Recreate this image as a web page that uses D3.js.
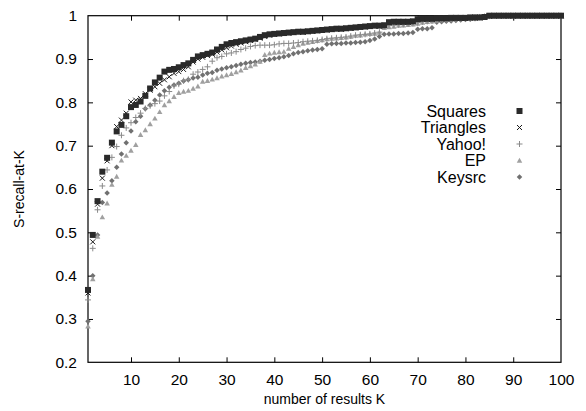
<!DOCTYPE html>
<html><head><meta charset="utf-8">
<script src="https://cdn.jsdelivr.net/npm/d3@7"></script>
<style>
body{margin:0;background:#fff;}
svg{display:block;font-family:"Liberation Sans",Arial,sans-serif;}
</style></head>
<body><svg id="c" width="586" height="411"></svg>
<script>
const kValues = d3.range(1, 101);
const xTicks = [10,20,30,40,50,60,70,80,90,100];
const yTicks = [0.2,0.3,0.4,0.5,0.6,0.7,0.8,0.9,1];
const seriesNames = ["Squares","Triangles","Yahoo!","EP","Keysrc"];

const squares = [0.367,0.494,0.572,0.640,0.672,0.707,0.733,0.748,0.768,0.789,
0.794,0.802,0.815,0.832,0.846,0.857,0.871,0.875,0.877,0.881,
0.886,0.890,0.898,0.906,0.909,0.912,0.915,0.922,0.928,0.934,
0.937,0.939,0.941,0.943,0.945,0.947,0.951,0.955,0.957,0.958,
0.959,0.960,0.961,0.962,0.963,0.963,0.964,0.965,0.966,0.967,
0.968,0.969,0.970,0.970,0.971,0.972,0.973,0.974,0.975,0.976,
0.977,0.977,0.978,0.985,0.986,0.986,0.986,0.986,0.987,0.992,
0.993,0.993,0.993,0.994,0.994,0.994,0.995,0.995,0.995,0.995,
0.996,0.996,0.996,0.997,1,1,1,1,1,1,
1,1,1,1,1,1,1,1,1,1];
const triangles = [0.360,0.478,0.565,0.625,0.665,0.700,0.744,0.759,0.775,0.801,
0.805,0.809,0.820,0.828,0.836,0.844,0.852,0.859,0.867,0.871,
0.876,0.882,0.893,0.900,0.904,0.908,0.911,0.916,0.921,0.926,
0.930,0.934,0.937,0.940,0.943,0.945,0.948,0.952,0.955,0.957,
0.958,0.959,0.960,0.961,0.962,0.962,0.963,0.964,0.965,0.966,
0.967,0.968,0.969,0.969,0.970,0.971,0.972,0.973,0.974,0.975,
0.976,0.976,0.977,0.984,0.985,0.985,0.985,0.985,0.986,0.991,
0.992,0.992,0.992,0.993,0.993,0.993,0.994,0.994,0.994,0.994,
0.995,0.995,0.995,0.996,0.999,1,1,1,1,1,
1,1,1,1,1,1,1,1,1,1];
const yahoo = [0.344,0.463,0.552,0.607,0.644,0.673,0.698,0.724,0.741,0.753,
0.765,0.775,0.786,0.792,0.797,0.803,0.815,0.825,0.838,0.842,
0.850,0.853,0.865,0.870,0.876,0.882,0.895,0.903,0.906,0.912,
0.914,0.917,0.922,0.925,0.929,0.931,0.932,0.932,0.932,0.933,
0.935,0.936,0.936,0.937,0.938,0.940,0.941,0.942,0.943,0.945,
0.947,0.948,0.949,0.950,0.951,0.953,0.955,0.956,0.957,0.958,
0.960,0.962,0.975,0.977,0.978,0.979,0.980,0.981,0.982,0.984,
0.986,0.987,0.988,0.990,0.990,0.991,0.991,0.992,0.993,0.994,
0.995,0.996,0.997,0.998,0.999,1,1,1,1,1,
1,1,1,1,1,1,1,1,1,1];
const ep = [0.283,0.392,0.490,0.535,0.567,0.610,0.629,0.666,0.677,0.689,
0.702,0.725,0.736,0.750,0.763,0.778,0.794,0.803,0.813,0.822,
0.825,0.827,0.832,0.837,0.848,0.850,0.853,0.856,0.860,0.863,
0.866,0.870,0.874,0.880,0.884,0.888,0.894,0.910,0.913,0.915,
0.916,0.917,0.924,0.928,0.932,0.936,0.938,0.940,0.942,0.944,
0.946,0.947,0.948,0.949,0.950,0.952,0.954,0.955,0.957,0.958,
0.959,0.961,0.972,0.974,0.975,0.977,0.978,0.979,0.980,0.982,
0.984,0.986,0.987,0.989,0.990,0.991,0.992,0.993,0.994,0.995,
0.996,0.997,0.998,0.999,0.999,1,1,1,1,1,
1,1,1,1,1,1,1,1,1,1];
const keysrc = [0.295,0.400,0.494,0.569,0.591,0.619,0.650,0.681,0.707,0.734,
0.755,0.768,0.785,0.794,0.805,0.817,0.827,0.835,0.840,0.844,
0.849,0.852,0.856,0.858,0.863,0.867,0.869,0.874,0.877,0.880,
0.882,0.885,0.888,0.890,0.892,0.893,0.895,0.897,0.899,0.901,
0.903,0.905,0.908,0.912,0.915,0.917,0.919,0.921,0.922,0.924,
0.934,0.935,0.936,0.936,0.937,0.937,0.938,0.939,0.940,0.943,
0.946,0.952,0.957,0.958,0.958,0.959,0.959,0.960,0.961,0.969,
0.970,0.970,0.972,0.985,0.986,0.987,0.988,0.989,0.990,0.991,
0.992,0.993,0.995,0.997,0.999,1,1,1,1,1,
1,1,1,1,1,1,1,1,1,1];

const seriesValues = [squares, triangles, yahoo, ep, keysrc];
const seriesStyle = [
  {shape:"square", color:"#2a2a2a", size:6},
  {shape:"cross", color:"#1a1a1a", size:5},
  {shape:"plus", color:"#8a8a8a", size:6},
  {shape:"triangle", color:"#a0a0a0", size:5.5},
  {shape:"diamond", color:"#707070", size:5.5}
];

const svg = d3.select("#c");
const L = 88, R = 561, T = 15.7, B = 362.3;
const x = d3.scaleLinear().domain([1,100]).range([L,R]);
const y = d3.scaleLinear().domain([0.2,1]).range([B,T]);

function drawMarker(g, shape, cx, cy, s, color){
  const h = s/2;
  if(shape==="square"){
    g.append("rect").attr("x",cx-h).attr("y",cy-h).attr("width",s).attr("height",s).attr("fill",color);
  } else if(shape==="cross"){
    g.append("path").attr("d",`M${cx-h},${cy-h}L${cx+h},${cy+h}M${cx-h},${cy+h}L${cx+h},${cy-h}`)
     .attr("stroke",color).attr("stroke-width",1).attr("fill","none");
  } else if(shape==="plus"){
    g.append("path").attr("d",`M${cx-h},${cy}L${cx+h},${cy}M${cx},${cy-h}L${cx},${cy+h}`)
     .attr("stroke",color).attr("stroke-width",1).attr("fill","none");
  } else if(shape==="triangle"){
    g.append("path").attr("d",`M${cx},${cy-h}L${cx+h},${cy+h*0.8}L${cx-h},${cy+h*0.8}Z`).attr("fill",color);
  } else if(shape==="diamond"){
    g.append("path").attr("d",`M${cx},${cy-h}L${cx+h},${cy}L${cx},${cy+h}L${cx-h},${cy}Z`).attr("fill",color);
  }
}

// axes with inward ticks (gnuplot style)
const tickLen = 5;
const axB = svg.append("g").attr("transform",`translate(0,${B})`)
  .call(d3.axisBottom(x).tickValues(xTicks).tickSizeInner(-tickLen).tickSizeOuter(0).tickPadding(12));
const axT = svg.append("g").attr("transform",`translate(0,${T})`)
  .call(d3.axisTop(x).tickValues(xTicks).tickSizeInner(-tickLen).tickSizeOuter(0).tickFormat(""));
const axL = svg.append("g").attr("transform",`translate(${L},0)`)
  .call(d3.axisLeft(y).tickValues(yTicks).tickSizeInner(-tickLen).tickSizeOuter(0).tickPadding(11).tickFormat(d3.format("")));
const axR = svg.append("g").attr("transform",`translate(${R},0)`)
  .call(d3.axisRight(y).tickValues(yTicks).tickSizeInner(-tickLen).tickSizeOuter(0).tickFormat(""));
[axB,axT,axL,axR].forEach(a=>{
  a.select(".domain").remove();
  a.selectAll("line").attr("stroke","#000");
  a.selectAll("text").attr("font-size",15.5).attr("fill","#000").attr("font-family","Liberation Sans, Arial, sans-serif");
});
// remove ticks at plot corners
axL.selectAll(".tick").filter(d=>d===0.2||d===1).select("line").remove();
axR.selectAll(".tick").filter(d=>d===0.2||d===1).select("line").remove();
axT.selectAll(".tick").filter(d=>d===100).select("line").remove();
axB.selectAll(".tick").filter(d=>d===100).select("line").remove();

svg.append("rect").attr("x",L).attr("y",T).attr("width",R-L).attr("height",B-T)
  .attr("fill","none").attr("stroke","#000").attr("stroke-width",1.2);

// data markers (draw last series first so Squares on top)
for(let si=seriesValues.length-1; si>=0; si--){
  const g = svg.append("g");
  const st = seriesStyle[si];
  seriesValues[si].forEach((v,i)=>drawMarker(g, st.shape, x(kValues[i]), y(v), st.size, st.color));
}

// legend
const lg = svg.append("g");
seriesNames.forEach((n,i)=>{
  const cy = 111 + i*16.5;
  lg.append("text").attr("x",486).attr("y",cy).attr("dy","0.35em").attr("text-anchor","end")
    .attr("font-size",16).attr("fill","#000").text(n);
  const st = seriesStyle[i];
  drawMarker(lg, st.shape, 519.5, cy, st.size, st.color);
});

// axis titles
svg.append("text").attr("x",(L+R)/2).attr("y",404).attr("text-anchor","middle")
  .attr("font-size",14).attr("fill","#000").text("number of results K");
svg.append("text").attr("transform",`translate(24,${(T+B)/2}) rotate(-90)`).attr("text-anchor","middle")
  .attr("font-size",14).attr("fill","#000").text("S-recall-at-K");
</script></body></html>
